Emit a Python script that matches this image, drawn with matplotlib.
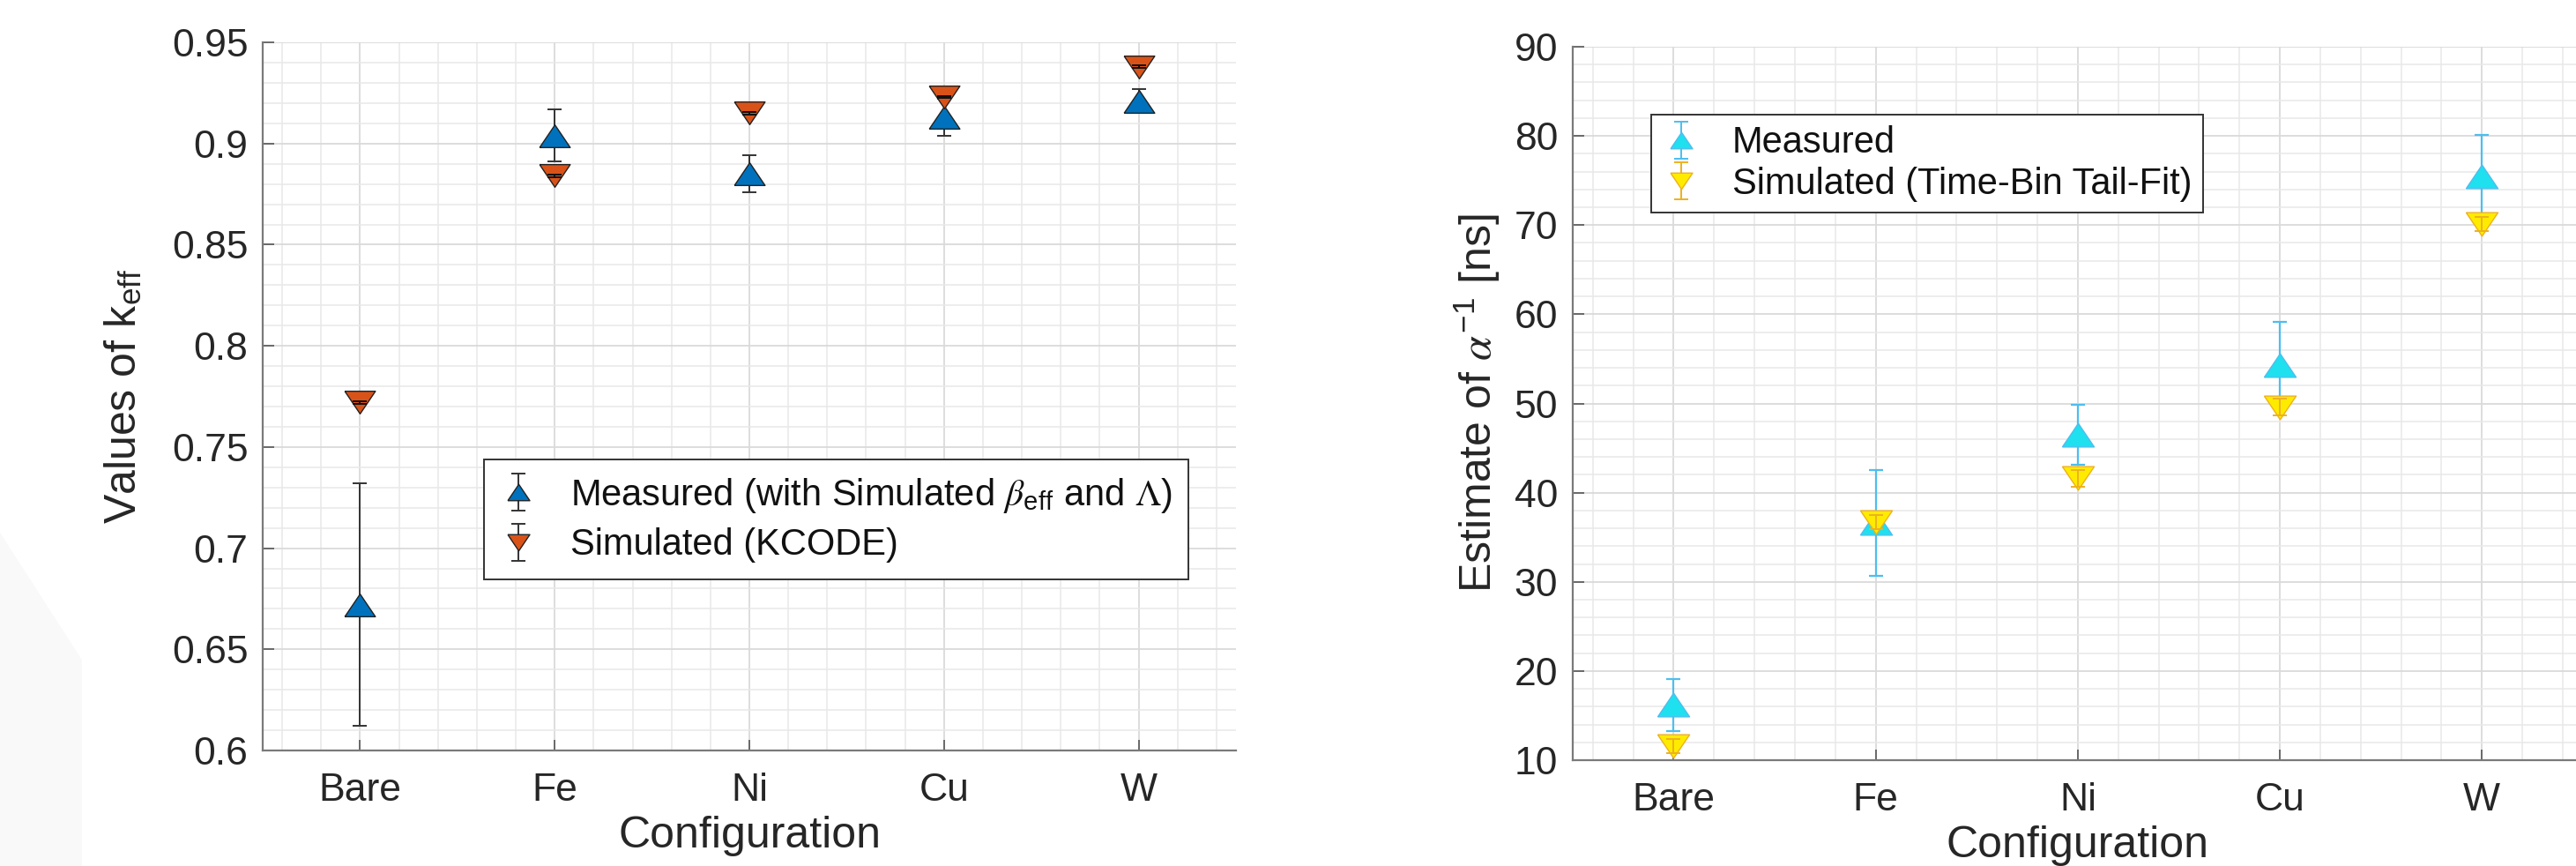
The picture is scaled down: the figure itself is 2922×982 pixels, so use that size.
import numpy as np
import matplotlib
matplotlib.use('Agg')
import matplotlib.pyplot as plt
from matplotlib.ticker import MultipleLocator, FuncFormatter
from matplotlib.patches import Polygon

plt.rcParams['font.family'] = ['Liberation Sans', 'DejaVu Sans']
plt.rcParams['mathtext.fontset'] = 'stix'

# data
categories = ['Bare', 'Fe', 'Ni', 'Cu', 'W']
keff_meas = [0.672, 0.904, 0.885, 0.913, 0.921]
keff_meas_err = [0.060, 0.013, 0.009, 0.009, 0.006]
keff_sim = [0.772, 0.884, 0.915, 0.923, 0.938]
keff_sim_err = [0.0006, 0.0006, 0.0006, 0.0006, 0.0006]

alpha_meas = [16.2, 36.6, 46.5, 54.3, 75.5]
alpha_meas_err = [2.9, 5.9, 3.4, 4.8, 4.6]
alpha_sim = [11.6, 36.7, 41.6, 49.6, 70.1]
alpha_sim_err = [0.8, 0.8, 0.9, 0.9, 0.8]

x = np.arange(1, len(categories) + 1)

# wide triangles like the MATLAB markers
tri_up = [(-1, -0.74), (1, -0.74), (0, 0.74), (-1, -0.74)]
tri_dn = [(-1, 0.74), (1, 0.74), (0, -0.74), (-1, 0.74)]

fig = plt.figure(figsize=(29.22, 9.82), dpi=100)

# faint background shape bottom-left
fig.patches.append(Polygon([(0, 0.385), (0.0318, 0.238), (0.0318, 0), (0, 0)],
                           closed=True, transform=fig.transFigure,
                           facecolor='#f9f9f9', edgecolor='none', zorder=0))

ax1 = fig.add_axes([0.102, 0.1334, 0.3778, 0.8177])
ax2 = fig.add_axes([0.6105, 0.1222, 0.3922, 0.8238])


def style_axes(ax):
    ax.set_facecolor('none')
    for s in ['top', 'right']:
        ax.spines[s].set_visible(False)
    for s in ['left', 'bottom']:
        ax.spines[s].set_color('#7a7a7a')
        ax.spines[s].set_linewidth(1.6)
    ax.set_xlim(0.5, 5.5)
    ax.set_xticks(x)
    ax.set_xticklabels(categories)
    ax.xaxis.set_minor_locator(MultipleLocator(0.2))
    ax.tick_params(which='major', direction='in', length=9, width=1.2,
                   color='#555555', labelsize=32, labelcolor='#262626')
    ax.tick_params(axis='x', which='major', pad=18)
    ax.tick_params(axis='y', which='major', pad=12)
    ax.tick_params(which='minor', length=0)
    ax.grid(True, which='major', color='#dadada', linewidth=1.3)
    ax.grid(True, which='minor', color='#e8e8e8', linewidth=1.1)
    ax.set_axisbelow(True)
    ax.set_xlabel('Configuration', fontsize=36, color='#262626', labelpad=6)


# ---- left: k_eff ----
style_axes(ax1)
ax1.set_ylim(0.6, 0.95)
ax1.yaxis.set_major_locator(MultipleLocator(0.05))
ax1.yaxis.set_minor_locator(MultipleLocator(0.01))
ax1.yaxis.set_major_formatter(FuncFormatter(lambda v, p: '{:g}'.format(round(v, 3))))

ax1.errorbar(x, keff_meas, yerr=keff_meas_err, fmt='none', ecolor='#333333',
             elinewidth=1.4, capsize=6, capthick=1.4, zorder=2)
ax1.plot(x, keff_meas, linestyle='none', marker=tri_up, markersize=25,
         markerfacecolor='#0072BD', markeredgecolor='#222222', markeredgewidth=1, zorder=3)
ax1.plot(x, keff_sim, linestyle='none', marker=tri_dn, markersize=25,
         markerfacecolor='#D95319', markeredgecolor='#222222', markeredgewidth=1, zorder=3)
ax1.errorbar(x, keff_sim, yerr=keff_sim_err, fmt='none', ecolor='#111111',
             elinewidth=1.4, capsize=6, capthick=1.4, zorder=4)
ax1.set_ylabel(r'Values of k$_{\mathregular{eff}}$', fontsize=36, color='#262626', labelpad=22)

# legend proxies
l1 = ax1.errorbar([np.nan], [np.nan], yerr=[np.nan], marker=tri_up, markersize=18, linestyle='none',
                  markerfacecolor='#0072BD', markeredgecolor='#222222', ecolor='#333333',
                  elinewidth=1.4, capsize=6, capthick=1.4)
l2 = ax1.errorbar([np.nan], [np.nan], yerr=[np.nan], marker=tri_dn, markersize=18, linestyle='none',
                  markerfacecolor='#D95319', markeredgecolor='#222222', ecolor='#333333',
                  elinewidth=1.4, capsize=6, capthick=1.4)
leg1 = ax1.legend([l1, l2],
                  [r'Measured (with Simulated $\beta_{\mathregular{eff}}$ and $\Lambda$)',
                   'Simulated (KCODE)'],
                  loc='upper left', bbox_to_anchor=(0.227, 0.411), borderaxespad=0,
                  fontsize=30, fancybox=False, edgecolor='#333333', framealpha=1,
                  handlelength=1.0, handletextpad=0.9, labelspacing=0.35, borderpad=0.45)
leg1.get_frame().set_linewidth(1.4)
for t in leg1.get_texts():
    t.set_color('#111111')

# ---- right: alpha^-1 ----
style_axes(ax2)
ax2.set_ylim(10, 90)
ax2.yaxis.set_major_locator(MultipleLocator(10))
ax2.yaxis.set_minor_locator(MultipleLocator(2))

ax2.errorbar(x, alpha_meas, yerr=alpha_meas_err, fmt='none', ecolor='#4DBEEE',
             elinewidth=1.6, capsize=6, capthick=1.6, zorder=2)
ax2.plot(x, alpha_meas, linestyle='none', marker=tri_up, markersize=26,
         markerfacecolor='#1FE0EE', markeredgecolor='#4DBEEE', markeredgewidth=1, zorder=3)
ax2.plot(x, alpha_sim, linestyle='none', marker=tri_dn, markersize=26,
         markerfacecolor='#FFEB00', markeredgecolor='#EDB120', markeredgewidth=1, zorder=4)
ax2.errorbar(x, alpha_sim, yerr=alpha_sim_err, fmt='none', ecolor='#EDB120',
             elinewidth=1.4, capsize=6, capthick=1.4, zorder=5)
ax2.set_ylabel(r'Estimate of $\alpha^{\mathregular{-1}}$ [ns]', fontsize=36, color='#262626', labelpad=10)

r1 = ax2.errorbar([np.nan], [np.nan], yerr=[np.nan], marker=tri_up, markersize=18, linestyle='none',
                  markerfacecolor='#1FE0EE', markeredgecolor='#4DBEEE', ecolor='#4DBEEE',
                  elinewidth=1.4, capsize=6, capthick=1.4)
r2 = ax2.errorbar([np.nan], [np.nan], yerr=[np.nan], marker=tri_dn, markersize=18, linestyle='none',
                  markerfacecolor='#FFEB00', markeredgecolor='#EDB120', ecolor='#EDB120',
                  elinewidth=1.4, capsize=6, capthick=1.4)
leg2 = ax2.legend([r1, r2], ['Measured', 'Simulated (Time-Bin Tail-Fit)'],
                  loc='upper left', bbox_to_anchor=(0.078, 0.905), borderaxespad=0,
                  fontsize=30, fancybox=False, edgecolor='#333333', framealpha=1,
                  handlelength=1.0, handletextpad=0.9, labelspacing=0.15, borderpad=0.3)
leg2.get_frame().set_linewidth(1.4)
for t in leg2.get_texts():
    t.set_color('#111111')

fig.savefig('out.png', dpi=100, facecolor='white')
